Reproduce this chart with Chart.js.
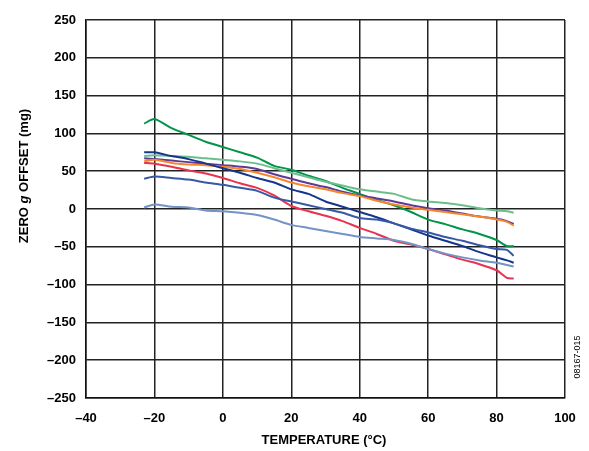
<!DOCTYPE html>
<html>
<head>
<meta charset="utf-8">
<script src="https://cdn.jsdelivr.net/npm/chart.js@4.4.0/dist/chart.umd.min.js"></script>
<style>
  html, body { margin: 0; padding: 0; background: #fff; }
  #wrap { width: 589px; height: 451px; }
</style>
</head>
<body>
<div id="wrap"><canvas id="chart" width="589" height="451"></canvas></div>
<script>
// temperature points (°C) shared by every curve
const temps = [-23, -20, -15, -10, -5, 0, 5, 10, 15, 20, 25, 30, 35, 40, 45, 50, 55, 60, 65, 70, 75, 80, 83, 85];

// zero g offset (mg), one array per device
const green      = [113, 119, 107, 98, 89, 82, 75, 68, 57, 52, 44, 37, 28, 20, 12, 5, -4, -14, -20, -27, -33, -41, -49, -49];
const lightGreen = [70, 71, 70, 69, 67, 65, 63, 60, 54, 48, 42, 36, 31, 26, 23, 20, 13, 10, 8, 5, 1, -2, -3, -5];
const purple     = [67, 66, 64, 62, 60, 58, 56, 53, 46, 40, 34, 29, 23, 18, 14, 10, 5, 1, -2, -6, -10, -13, -16, -20];
const orange     = [63, 65, 61, 59, 58, 56, 53, 48, 42, 35, 30, 26, 21, 17, 11, 6, 2, -1, -4, -7, -10, -14, -17, -22];
const navy       = [75, 75, 70, 66, 60, 54, 48, 41, 35, 26, 20, 10, 3, -4, -11, -19, -27, -35, -42, -49, -57, -64, -68, -71];
const blue       = [40, 43, 41, 39, 35, 32, 28, 24, 15, 10, 5, 0, -5, -12, -14, -19, -26, -31, -37, -42, -48, -53, -54, -62];
const red        = [61, 60, 56, 51, 47, 41, 34, 28, 18, 4, -3, -9, -16, -25, -33, -42, -47, -53, -60, -67, -73, -81, -91, -92];
const steel      = [2, 6, 3, 2, -2, -3, -5, -8, -14, -21, -25, -29, -33, -37, -39, -41, -46, -53, -59, -64, -68, -71, -74, -76];

const xTicks = [-40, -20, 0, 20, 40, 60, 80, 100];
const yTicks = [-250, -200, -150, -100, -50, 0, 50, 100, 150, 200, 250];

const FONT = 'Arial, "Liberation Sans", Helvetica, sans-serif';

function series(vals, color){
  return {
    data: vals.map((v, i) => ({ x: temps[i], y: v })),
    borderColor: color, backgroundColor: color,
    borderWidth: 2, pointRadius: 0, tension: 0.25, fill: false
  };
}

const dash = s => String(s).replace('-', '\u2013');

// axis titles + figure code, drawn by hand so the italic g can be mixed in
const labels = {
  id: 'labels',
  afterDraw(chart){
    const c = chart.ctx;
    c.save();
    c.fillStyle = '#000';
    c.textBaseline = 'middle';

    c.font = 'bold 13px ' + FONT;
    c.textAlign = 'center';
    c.fillText('TEMPERATURE (\u00B0C)', 324, 440);

    // y title, rotated
    const parts = [['ZERO ', 'bold 13px '], ['g', 'italic bold 13px '], [' OFFSET (mg)', 'bold 13px ']];
    let total = 0;
    parts.forEach(p => { c.font = p[1] + FONT; total += c.measureText(p[0]).width; });
    c.translate(24, 176);
    c.rotate(-Math.PI / 2);
    c.textAlign = 'left';
    let x = -total / 2;
    parts.forEach(p => { c.font = p[1] + FONT; c.fillText(p[0], x, 0); x += c.measureText(p[0]).width; });
    c.restore();

    c.save();
    c.fillStyle = '#000';
    c.font = '9px ' + FONT;
    c.textAlign = 'center';
    c.textBaseline = 'middle';
    c.translate(578, 357);
    c.rotate(-Math.PI / 2);
    c.fillText('08167-015', 0, 0);
    c.restore();
  }
};

new Chart(document.getElementById('chart'), {
  type: 'line',
  data: {
    datasets: [
      series(steel, '#7393c6'),
      series(blue, '#3659a6'),
      series(red, '#e8334f'),
      series(navy, '#15368a'),
      series(orange, '#f7862e'),
      series(purple, '#5e3a97'),
      series(lightGreen, '#6dbe8d'),
      series(green, '#00954a')
    ]
  },
  options: {
    responsive: false,
    animation: false,
    layout: { padding: { left: 0, right: 24, top: 20, bottom: 0 } },
    plugins: { legend: { display: false }, tooltip: { enabled: false } },
    scales: {
      x: {
        type: 'linear', min: -40, max: 100,
        afterBuildTicks: s => { s.ticks = xTicks.map(v => ({ value: v })); },
        afterFit: s => { s.height = 53; },
        border: { color: '#111', width: 1.5 },
        grid: { color: '#222', lineWidth: 1.5, drawTicks: false },
        ticks: { padding: 13, color: '#000', font: { family: FONT, size: 13, weight: 'bold' }, callback: v => dash(v) }
      },
      y: {
        min: -250, max: 250,
        afterBuildTicks: s => { s.ticks = yTicks.map(v => ({ value: v })); },
        afterFit: s => { s.width = 86; },
        border: { color: '#111', width: 1.5 },
        grid: { color: '#222', lineWidth: 1.5, drawTicks: false },
        ticks: { padding: 10, color: '#000', font: { family: FONT, size: 13, weight: 'bold' }, callback: v => dash(v) }
      }
    }
  },
  plugins: [labels]
});
</script>
</body>
</html>
